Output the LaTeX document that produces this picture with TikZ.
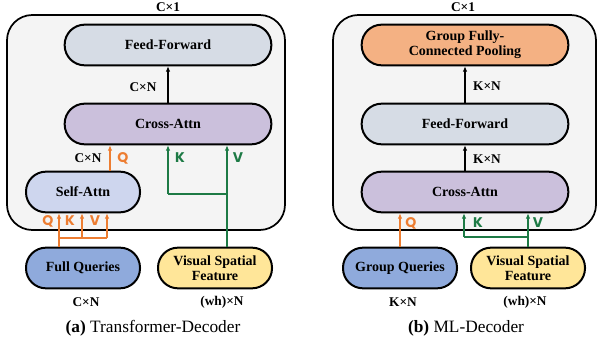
\documentclass[tikz,border=0pt]{standalone}
\usepackage{fontspec}
\setmainfont{Liberation Serif}
\newfontfamily\qkvfont{Poppins}
\usetikzlibrary{arrows.meta}
\definecolor{ffcol}{HTML}{D6DCE5}
\definecolor{cacol}{HTML}{CBC0DC}
\definecolor{sacol}{HTML}{CED6EE}
\definecolor{fqcol}{HTML}{8FAADC}
\definecolor{vscol}{HTML}{FFE699}
\definecolor{gpcol}{HTML}{F4B183}
\definecolor{bgcol}{HTML}{F4F4F4}
\definecolor{orcol}{HTML}{ED7D31}
\definecolor{grcol}{HTML}{1D7A45}
\begin{document}
\begin{tikzpicture}[x=0.75pt,y=-0.75pt,
  blk/.style={draw=black,line width=1.5pt,rounded corners=15pt,align=center,
    font=\fontsize{10.5}{11.5}\selectfont\bfseries,minimum height=30.5pt,inner sep=0pt},
  wide/.style={blk,minimum width=155pt},
  narrow/.style={blk,minimum width=85.5pt},
  outer/.style={draw=black,line width=1.3pt,fill=bgcol,rounded corners=19pt},
  dim/.style={font=\fontsize{10}{11}\selectfont\bfseries},
  captxt/.style={font=\fontsize{13}{15}\selectfont},
  arr/.style={line width=1.1pt,-{Latex[length=4pt,width=3.5pt]}},
  ln/.style={line width=1.1pt},
  oarr/.style={arr,draw=orcol},
  garr/.style={arr,draw=grcol},
  oln/.style={ln,draw=orcol},
  gln/.style={ln,draw=grcol},
  qlab/.style={font=\fontsize{10.5}{11}\qkvfont\bfseries,text=orcol},
  glab/.style={font=\fontsize{10.5}{11}\qkvfont\bfseries,text=grcol}]
\useasboundingbox (0,0) rectangle (598,348);
% ---------- (a) ----------
\draw[outer] (7,15) rectangle (285,230);
\node[dim] (ac1) at (168,7) {C×1};
\node[wide,fill=ffcol] (aff) at (168,45) {Feed-Forward};
\node[wide,fill=cacol] (aca) at (168,124) {Cross-Attn};
\node[narrow,fill=sacol] (asa) at (83,192) {Self-Attn};
\node[narrow,fill=fqcol] (afq) at (83,268) {Full Queries};
\node[narrow,fill=vscol] (avs) at (215,268) {Visual Spatial\\Feature};
\draw[arr] (aca) -- (aff);
\node[dim] (acn1) at (143,87) {C×N};
% Q from self-attn
\coordinate (aqx) at (110,0);
\draw[oarr] (asa.north -| aqx) -- (aca.south -| aqx);
\node[dim] (acn2) at (88,158) {C×N};
\node[qlab] (aql) at (123,158) {Q};
% K, V
\coordinate (akx) at (168,0);
\coordinate (avx) at (227,0);
\coordinate (akb) at (168,194);
\coordinate (avb) at (227,194);
\draw[garr] (avs.north -| avx) -- (aca.south -| avx);
\draw[gln] (avb) -- (akb);
\draw[garr] (akb) -- (aca.south -| akx);
\node[glab] (akl) at (180,158) {K};
\node[glab] (avl) at (238,158) {V};
% Q K V into self-attn
\coordinate (aq1) at (59,238);
\coordinate (aq2) at (82,238);
\coordinate (aq3) at (107,238);
\draw[oarr] (afq.north -| aq1) -- (asa.south -| aq1);
\draw[oln] (aq1) -- (aq3);
\draw[oarr] (aq2) -- (asa.south -| aq2);
\draw[oarr] (aq3) -- (asa.south -| aq3);
\node[qlab] (aq1l) at (48,221) {Q};
\node[qlab] (aq2l) at (70,221) {K};
\node[qlab] (aq3l) at (95,221) {V};
\node[dim] (afqd) at (86,302) {C×N};
\node[dim] (avsd) at (222,302) {(wh)×N};
\node[captxt] (acap) at (153,328) {\textbf{(a)} Transformer-Decoder};
% ---------- (b) ----------
\draw[outer] (333,15) rectangle (596,230);
\node[dim] (bc1) at (463,7) {C×1};
\node[wide,fill=gpcol] (bgp) at (465,45) {Group Fully-\\Connected Pooling};
\node[wide,fill=ffcol] (bff) at (465,124) {Feed-Forward};
\node[wide,fill=cacol] (bca) at (465,192) {Cross-Attn};
\node[narrow,fill=fqcol] (bgq) at (400,268) {Group Queries};
\node[narrow,fill=vscol] (bvs) at (528,268) {Visual Spatial\\Feature};
\draw[arr] (bff) -- (bgp);
\draw[arr] (bca) -- (bff);
\node[dim] (bkn1) at (487,86) {K×N};
\node[dim] (bkn2) at (487,159) {K×N};
\draw[oarr] (bgq) -- (bca.south -| bgq);
\node[qlab] (bql) at (411,223) {Q};
\coordinate (bkb) at (464,237);
\coordinate (bvb) at (528,237);
\draw[garr] (bvs) -- (bca.south -| bvs);
\draw[gln] (bvb) -- (bkb);
\draw[garr] (bkb) -- (bca.south -| bkb);
\node[glab] (bkl) at (478,223) {K};
\node[glab] (bvl) at (538,223) {V};
\node[dim] (bgqd) at (403,302) {K×N};
\node[dim] (bvsd) at (525,302) {(wh)×N};
\node[captxt] (bcap) at (466,328) {\textbf{(b)} ML-Decoder};
\end{tikzpicture}
\end{document}
